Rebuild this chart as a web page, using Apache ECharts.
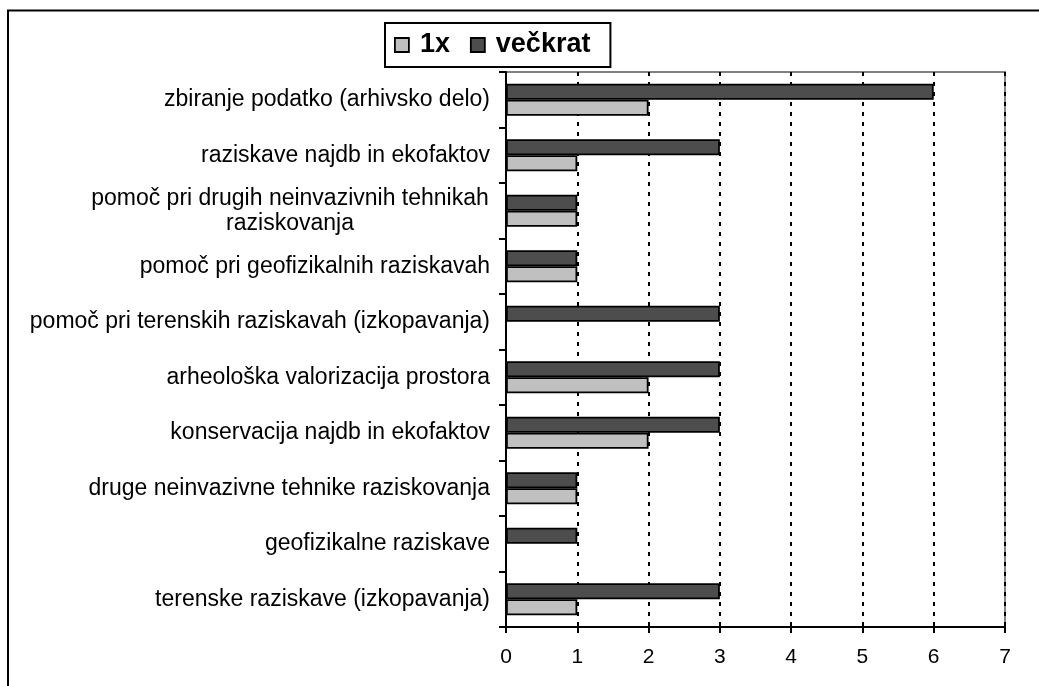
<!DOCTYPE html>
<html>
<head>
<meta charset="utf-8">
<script src="https://cdn.jsdelivr.net/npm/echarts@6/dist/echarts.min.js"></script>
<style>
  html, body { margin: 0; padding: 0; background: #fff; }
  #chart { width: 1039px; height: 686px; }
</style>
</head>
<body>
<div id="chart"></div>
<script>
// categories listed bottom -> top (echarts category y axis starts at bottom)
const categories = [
  'terenske raziskave (izkopavanja)',
  'geofizikalne raziskave',
  'druge neinvazivne tehnike raziskovanja',
  'konservacija najdb in ekofaktov',
  'arheološka valorizacija prostora',
  'pomoč pri terenskih raziskavah (izkopavanja)',
  'pomoč pri geofizikalnih raziskavah',
  'pomoč pri drugih neinvazivnih tehnikah\nraziskovanja',
  'raziskave najdb in ekofaktov',
  'zbiranje podatko (arhivsko delo)'
]
const once = [1, 0, 1, 2, 2, 0, 1, 1, 1, 2]
const many = [3, 1, 1, 3, 3, 3, 1, 1, 3, 6]
const xTicks = [0, 1, 2, 3, 4, 5, 6, 7]

const font = 'Arial, "Liberation Sans", sans-serif'

const barDefault = {
  type: 'bar',
  barWidth: 16,
  barGap: '0%',
  itemStyle: { borderColor: '#000', borderWidth: 1.8 },
  emphasis: { disabled: true },
}

const chart = echarts.init(document.getElementById('chart'))
chart.setOption({
  animation: false,
  backgroundColor: '#fff',
  textStyle: { fontFamily: font },
  graphic: [{
    type: 'rect',
    shape: { x: 8, y: 10.5, width: 1200, height: 900 },
    style: { fill: 'none', stroke: '#000', lineWidth: 2 },
    silent: true
  }],
  legend: {
    left: 385,
    top: 23,
    padding: [7, 20, 7, 9],
    borderColor: '#000',
    borderWidth: 2,
    itemWidth: 14,
    itemHeight: 14,
    itemGap: 20,
    icon: 'rect',
    itemStyle: { borderColor: '#000', borderWidth: 1.8 },
    textStyle: {
      fontFamily: font, fontSize: 27, fontWeight: 'bold', color: '#000',
      lineHeight: 30, padding: [0, 0, 0, 6]
    },
    data: ['1x', 'večkrat']
  },
  grid: {
    left: 506, right: 34, top: 72, bottom: 59,
    show: true,
    borderColor: '#808080',
    borderWidth: 2
  },
  xAxis: {
    type: 'value',
    min: xTicks[0],
    max: xTicks[xTicks.length - 1],
    interval: 1,
    axisLine: { show: true, lineStyle: { color: '#000', width: 2 } },
    axisTick: { show: true, length: 6, lineStyle: { color: '#000', width: 2 } },
    axisLabel: { color: '#000', fontSize: 21, fontFamily: font, margin: 20 },
    splitLine: { show: true, lineStyle: { color: '#000', width: 2, type: [4, 6] } }
  },
  yAxis: {
    type: 'category',
    data: categories,
    axisLine: { show: true, lineStyle: { color: '#000', width: 2 } },
    axisTick: { show: true, length: 7, lineStyle: { color: '#000', width: 2 } },
    axisLabel: {
      color: '#000',
      fontSize: 23,
      fontFamily: font,
      margin: 16,
      lineHeight: 25,
      formatter: v => v.includes('\n')
        ? v.split('\n').map(s => `{c|${s}}`).join('\n')
        : v,
      rich: { c: { width: 400, align: 'center', fontSize: 23, fontFamily: font, color: '#000', lineHeight: 25 } }
    },
    splitLine: { show: false }
  },
  // večkrat first so its bar sits above the 1x bar, as in the original
  series: [
    { ...barDefault, name: 'večkrat', color: '#4d4d4d', data: many.map(v => v || '-') },
    { ...barDefault, name: '1x', color: '#c0c0c0', data: once.map(v => v || '-') }
  ]
})
</script>
</body>
</html>
